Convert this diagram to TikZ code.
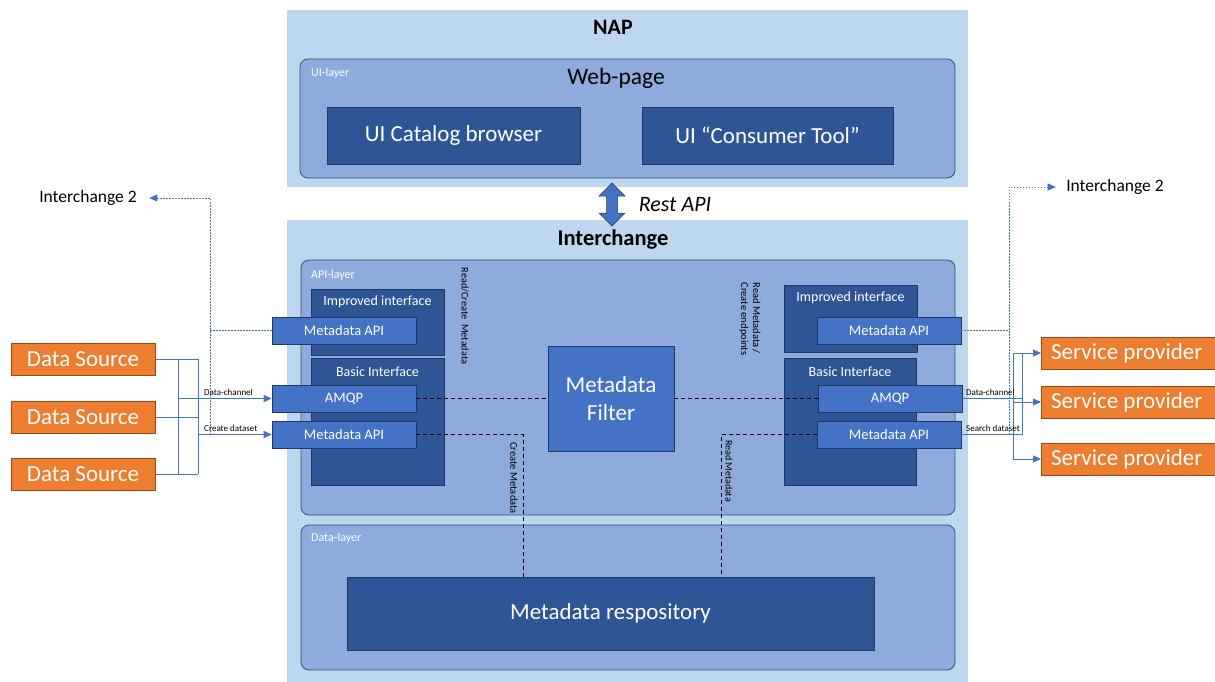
\documentclass[tikz,border=0pt]{standalone}
\usepackage{fontspec}
\setmainfont{Carlito}
\usetikzlibrary{arrows.meta}
\definecolor{outerbg}{HTML}{BDD7EE}
\definecolor{layerbg}{HTML}{8FAADC}
\definecolor{layerln}{HTML}{3B5072}
\definecolor{darkbox}{HTML}{2F5597}
\definecolor{darkln}{HTML}{203864}
\definecolor{midbox}{HTML}{4472C4}
\definecolor{orangebox}{HTML}{ED7D31}
\definecolor{orangeln}{HTML}{9C4A14}
\definecolor{conn}{HTML}{4472C4}
\begin{document}
\begin{tikzpicture}[x=1pt,y=-1pt,
  outer/.style={fill=outerbg, draw=none, inner sep=0pt},
  layer/.style={fill=layerbg, draw=layerln, rounded corners=8pt, line width=0.8pt, inner sep=0pt},
  dark/.style={fill=darkbox, draw=darkln, line width=0.6pt, inner sep=0pt, text=white},
  mid/.style={fill=midbox, draw=darkln, line width=0.6pt, inner sep=0pt, text=white, font=\fontsize{14.5}{16}\selectfont, minimum width=144pt, minimum height=27pt},
  src/.style={fill=orangebox, draw=orangeln, line width=0.6pt, inner sep=0pt, text=white, font=\fontsize{23}{26}\selectfont, minimum height=32pt},
  big/.style={font=\fontsize{23}{27}\selectfont},
  hdr/.style={text=white, font=\fontsize{14}{16}\selectfont},
  small/.style={font=\fontsize{12}{13}\selectfont, inner sep=0pt},
  tiny/.style={font=\fontsize{9}{10}\selectfont, inner sep=0pt, anchor=south west},
  rot/.style={font=\fontsize{10}{12}\selectfont, inner sep=0pt, rotate=-90},
  wire/.style={draw=conn, line width=0.8pt},
  dotw/.style={draw=conn, line width=0.7pt, dash pattern=on 1.5pt off 1.5pt},
  bdash/.style={draw=black, line width=1pt, dash pattern=on 4pt off 3pt},
  arr/.style={-{Triangle[length=8pt,width=7pt]}}
]
\useasboundingbox (0,0) rectangle (1215,682);
\fill[white] (0,0) rectangle (1215,682);

% NAP
\node[outer, minimum width=681pt, minimum height=177pt] (nap) at (627.5,98.5) {};
\node[font=\bfseries\fontsize{22}{24}\selectfont] (naptitle) at (613,27) {NAP};
\node[layer, minimum width=655pt, minimum height=119pt] (uilayer) at (627.5,118.5) {};
\node[small, text=white, anchor=west] (uilbl) at (311,73) {UI-layer};
\node[font=\fontsize{23.5}{26}\selectfont] (webpage) at (616,78) {Web-page};
\node[dark, big, minimum width=253pt, minimum height=57pt] (catalog) at (453.5,135.5) {UI Catalog browser};
\node[dark, big, minimum width=251pt, minimum height=57pt] (consumer) at (767.5,135.5) {UI “Consumer Tool”};

% Interchange
\node[outer, minimum width=681pt, minimum height=462pt] (inter) at (627.5,451) {};
\node[font=\bfseries\fontsize{22.5}{24}\selectfont] (intertitle) at (613,240) {Interchange};

% Rest API arrow
\draw[fill=midbox, draw=darkln, line width=0.5pt] (612,183) -- (625,196) -- (617.5,196) -- (617.5,213) -- (625,213) -- (612,226) -- (599,213) -- (606.5,213) -- (606.5,196) -- (599,196) -- cycle;
\node[font=\itshape\fontsize{22}{24}\selectfont] (rest) at (675,205) {Rest API};

% API layer
\node[layer, minimum width=654pt, minimum height=255pt] (apilayer) at (628,387.5) {};
\node[small, text=white, anchor=west] (apilbl) at (311,275) {API-layer};

\node[dark, minimum width=133pt, minimum height=66pt] (limp) at (377.5,322) {};
\node[hdr] (limpt) at (377.5,302) {Improved interface};
\node[dark, minimum width=133pt, minimum height=127pt] (lbasic) at (377.5,421.5) {};
\node[hdr] (lbasict) at (377.5,372) {Basic Interface};
\node[mid] (lmeta1) at (344,330.5) {Metadata API};
\node[mid] (lamqp) at (344,398.5) {AMQP};
\node[mid] (lmeta2) at (344,434.5) {Metadata API};

\node[dark, minimum width=133pt, minimum height=67pt] (rimp) at (850.5,318.5) {};
\node[hdr] (rimpt) at (850.5,298) {Improved interface};
\node[dark, minimum width=132pt, minimum height=127pt] (rbasic) at (850,421.5) {};
\node[hdr] (rbasict) at (850,372) {Basic Interface};
\node[mid] (rmeta1) at (889,330.5) {Metadata API};
\node[mid] (ramqp) at (890,398.5) {AMQP};
\node[mid] (rmeta2) at (889,434.5) {Metadata API};

\node[fill=midbox, draw=darkln, line width=0.6pt, minimum width=126pt, minimum height=105pt, text=white, align=center, font=\fontsize{23}{28}\selectfont] (filter) at (611,398.5) {Metadata\\Filter};

\node[rot, font=\fontsize{10.2}{12}\selectfont] (rclbl) at (465,316) {Read/Create\ \ Metadata};
\node[rot, align=left, font=\fontsize{10.5}{12}\selectfont] (rmlbl) at (750,319) {Read Metadata /\\Create endpoints};

% Data layer
\node[layer, minimum width=654pt, minimum height=145pt] (datalayer) at (628,597.5) {};
\node[small, text=white, anchor=west] (datalbl) at (311,538) {Data-layer};
\node[dark, big, minimum width=527pt, minimum height=73pt] (repo) at (610.5,613.5) {Metadata respository};

% black dashed connections
\coordinate (cmx) at (523,0);
\coordinate (rmx) at (721,0);
\draw[bdash] (lamqp.east) -- (filter.west |- lamqp.east);
\draw[bdash] (filter.east |- ramqp.west) -- (ramqp.west);
\draw[bdash] (lmeta2.east) -| (cmx |- repo.north);
\draw[bdash] (rmeta2.west) -| (rmx |- repo.north);
\node[rot, font=\fontsize{10.5}{12}\selectfont] (cmlbl) at (514,478) {Create Metadata};
\node[rot, font=\fontsize{10}{12}\selectfont] (rmdlbl) at (729,471) {Read Metadata};

% Left side
\node[src, minimum width=144pt] (ds1) at (83,359) {Data Source};
\node[src, minimum width=144pt] (ds2) at (83,417) {Data Source};
\node[src, minimum width=144pt] (ds3) at (83,474) {Data Source};
\node[font=\fontsize{17.5}{20}\selectfont] (ic2l) at (88,198) {Interchange 2};

\coordinate (lbA) at (178,0);
\coordinate (lbB) at (198,0);
\coordinate (ldot) at (210,0);
\draw[wire] (ds1.east) -- (ds1.east -| lbB);
\draw[wire] (ds2.east) -- (ds2.east -| lbB);
\draw[wire] (ds3.east) -- (ds3.east -| lbB);
\draw[wire] (ds1.east -| lbA) -- (ds3.east -| lbA);
\draw[wire] (ds1.east -| lbB) -- (ds3.east -| lbB);
\draw[wire, arr] (lamqp.west -| lbA) -- (lamqp.west);
\draw[wire, arr] (lmeta2.west -| lbB) -- (lmeta2.west);
\draw[dotw] (lmeta1.west) -- (lmeta1.west -| ldot);
\draw[dotw, arr, shorten >=9pt] (lmeta2.west -| ldot) -- (ldot |- ic2l.east) -- (ic2l.east);
\node[tiny] (dcl) at (204,396) {Data-channel};
\node[tiny] (cdl) at (204,432) {Create dataset};

% Right side
\node[src, minimum width=175pt, anchor=west] (sp1) at (1041,353) {\hspace*{-4pt}Service provider};
\node[src, minimum width=175pt, anchor=west] (sp2) at (1041,402) {\hspace*{-4pt}Service provider};
\node[src, minimum width=175pt, anchor=west] (sp3) at (1041,459) {\hspace*{-4pt}Service provider};
\node[font=\fontsize{17.5}{20}\selectfont] (ic2r) at (1115,187) {Interchange 2};

\coordinate (rbA) at (1013,0);
\coordinate (rbB) at (1022,0);
\coordinate (rdot) at (1009,0);
\draw[wire] (ramqp.east) -- (ramqp.east -| rbB);
\draw[wire] (rmeta2.east) -- (rmeta2.east -| rbB);
\draw[wire] (sp1.west -| rbB) -- (rmeta2.east -| rbB);
\draw[wire] (sp1.west -| rbA) -- (sp3.west -| rbA);
\draw[wire, arr] (sp1.west -| rbA) -- (sp1.west);
\draw[wire, arr] (sp2.west -| rbA) -- (sp2.west);
\draw[wire, arr] (sp3.west -| rbA) -- (sp3.west);
\draw[dotw] (rmeta1.east) -- (rmeta1.east -| rdot);
\draw[dotw, arr, shorten >=7pt] (rmeta2.east -| rdot) -- (rdot |- ic2r.west) -- (ic2r.west);
\node[tiny] (dcr) at (966,396) {Data-channel};
\node[tiny] (sdr) at (966,432) {Search dataset};
\end{tikzpicture}
\end{document}
